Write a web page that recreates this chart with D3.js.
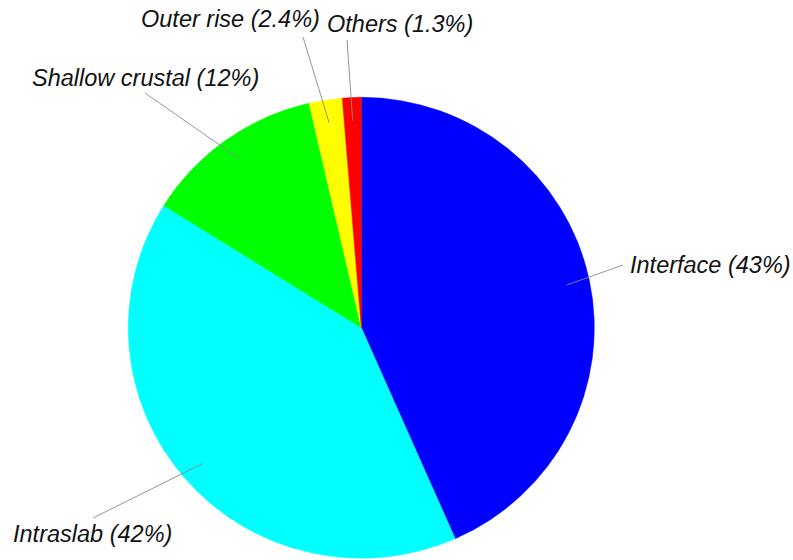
<!DOCTYPE html>
<html>
<head>
<meta charset="utf-8">
<script src="https://cdn.jsdelivr.net/npm/d3@7"></script>
<style>
  html, body { margin: 0; padding: 0; background: #fff; }
  svg { display: block; }
</style>
</head>
<body>
<svg id="chart" width="793" height="560"></svg>
<script>
// Data
const categories = ["Interface", "Intraslab", "Shallow crustal", "Outer rise", "Others"];
const values = [43.4, 40.5, 12.5, 2.3, 1.3];
const percentLabels = ["43%", "42%", "12%", "2.4%", "1.3%"];
const colors = ["#0000ff", "#00ffff", "#00ff00", "#ffff00", "#ff0000"];

// Layout
const W = 793, H = 560;
const cx = 361.3, cy = 327.8, R = 233, yScale = 0.989;
const labelLayout = [
  { x: 630, y: 273, lx: 623, ly: 265 },
  { x: 13,  y: 542, lx: 93,  ly: 518 },
  { x: 32,  y: 86,  lx: 145, ly: 93 },
  { x: 141, y: 27,  lx: 303, ly: 37 },
  { x: 327, y: 32,  lx: 347, ly: 40 }
];

const svg = d3.select("#chart");
const data = categories.map((c, i) => ({ name: c, value: values[i], pct: percentLabels[i], color: colors[i], i }));

const pie = d3.pie().value(d => d.value).sort(null).startAngle(0).endAngle(2 * Math.PI);
const arcs = pie(data);
const arc = d3.arc().innerRadius(0).outerRadius(R);
const inner = d3.arc().innerRadius(R * 0.9).outerRadius(R * 0.9);

const g = svg.append("g").attr("transform", `translate(${cx},${cy}) scale(1,${yScale})`);
g.selectAll("path.slice")
  .data(arcs)
  .join("path")
  .attr("class", "slice")
  .attr("d", arc)
  .attr("fill", d => d.data.color)
  .attr("stroke", d => d.data.color)
  .attr("stroke-width", 0.5);

// Leader lines
svg.append("g").selectAll("line")
  .data(arcs)
  .join("line")
  .attr("x1", d => labelLayout[d.data.i].lx)
  .attr("y1", d => labelLayout[d.data.i].ly)
  .attr("x2", d => cx + inner.centroid(d)[0])
  .attr("y2", d => cy + inner.centroid(d)[1] * yScale)
  .attr("stroke", "#8a8a8a")
  .attr("stroke-width", 0.9);

// Labels
svg.append("g").selectAll("text")
  .data(arcs)
  .join("text")
  .attr("x", d => labelLayout[d.data.i].x)
  .attr("y", d => labelLayout[d.data.i].y)
  .attr("font-family", "'Liberation Sans', Arial, sans-serif")
  .attr("font-style", "italic")
  .attr("font-size", 23.5)
  .attr("fill", "#111")
  .text(d => `${d.data.name} (${d.data.pct})`);
</script>
</body>
</html>
